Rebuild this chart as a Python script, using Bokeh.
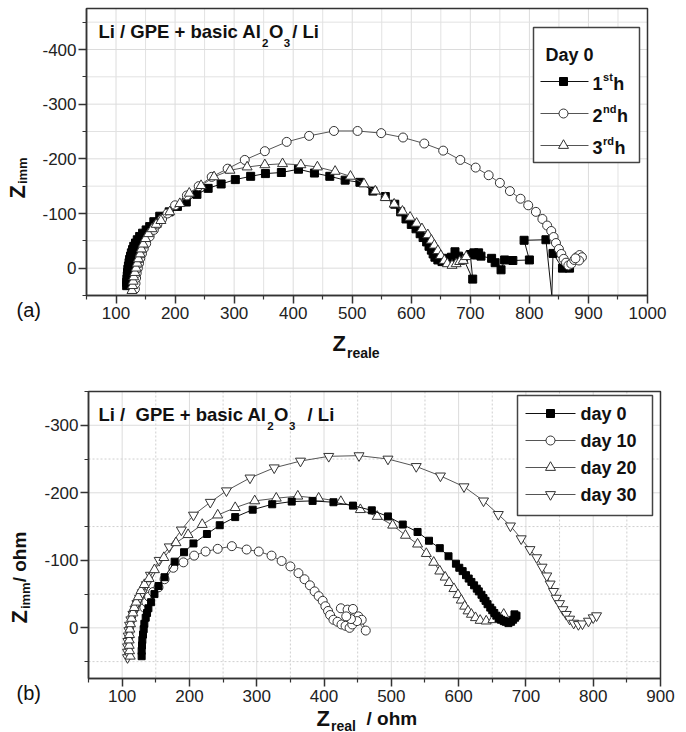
import math
from bokeh.plotting import figure
from bokeh.models import (Range1d, FixedTicker, Label, BoxAnnotation, LinearAxis,
                          PrintfTickFormatter)
from bokeh.layouts import column
from bokeh.embed import file_html
from bokeh.resources import INLINE

FONT = "Liberation Sans"

# ---------------- panel (a) data : Day 0, 1st/2nd/3rd hour ----------------
a_x_1h = [118, 118, 118.5, 119, 119.5, 120, 121, 122, 123, 124.5,
          126, 128, 130, 133, 136, 140, 145, 151, 157, 164,
          174, 190, 204, 219, 237, 256, 278, 302, 328, 353,
          380, 409, 436, 462, 488, 513, 535, 556, 572, 582,
          591, 600, 608, 615, 620, 626, 630, 634, 637, 640,
          645, 652, 658, 663, 668, 674, 680, 688, 704, 700,
          706, 710, 714, 718, 736, 742, 752, 758, 772, 800,
          791, 828, 838, 840, 856, 868]
a_y_1h = [32, 26, 20, 14, 8, 2, -4, -10, -16, -22,
          -28, -34, -40, -46, -52, -58, -64, -70, -76, -85,
          -95, -103, -113, -121, -135, -146, -154, -162, -168, -173,
          -175, -181, -174, -168, -161, -157, -141, -131, -117, -103,
          -90, -80, -72, -63, -56, -48, -40, -33, -26, -20,
          -15, -12, -18, -14, -20, -30, -22, -18, 20, -25,
          -28, -24, -28, -22, -18, -10, 3, -15, -14, -15,
          -51, -52, 51, -27, 0, 0]

a_x_2h = [132, 133, 134, 135, 137, 139, 141, 144, 147, 151,
          157, 164, 170, 178, 187, 200, 220, 240, 262, 289,
          318, 352, 389, 427, 469, 509, 549, 586, 622, 654,
          683, 709, 731, 750, 767, 785, 798, 811, 822, 830,
          837, 841, 845, 850, 854, 858, 862, 866, 871, 876,
          880, 885, 889, 884, 878]
a_y_2h = [38, 28, 18, 9, 0, -9, -18, -27, -36, -45,
          -58, -70, -80, -90, -100, -115, -133, -150, -167, -182,
          -198, -214, -231, -242, -251, -251, -247, -239, -228, -215,
          -198, -184, -170, -156, -141, -127, -115, -103, -90, -78,
          -68, -57, -46, -35, -26, -17, -10, -5, -8, -15,
          -20, -24, -20, -14, -18]

a_x_3h = [127, 128, 129, 130, 132, 134, 136, 138, 141, 143,
          146, 150, 155, 161, 168, 176, 191, 208, 224, 244,
          266, 293, 322, 352, 382, 413, 441, 471, 497, 520,
          539, 556, 571, 585, 598, 609, 618, 628, 634, 639,
          645, 650, 656, 661, 669, 676, 682, 688, 693]
a_y_3h = [41, 32, 24, 16, 8, 0, -9, -17, -26, -35,
          -44, -54, -63, -72, -80, -87, -103, -118, -137, -151,
          -167, -179, -185, -189, -191, -189, -185, -177, -168, -154,
          -141, -129, -117, -104, -93, -82, -72, -61, -51, -42,
          -32, -23, -14, -8, -5, -8, -12, -14, -21]

a_x_major = [100, 200, 300, 400, 500, 600, 700, 800, 900, 1000]
a_x_minor = [50, 150, 250, 350, 450, 550, 650, 750, 850, 950]
a_y_major = [-400, -300, -200, -100, 0]
a_y_minor = [-450, -350, -250, -150, -50, 50]
a_xlim = (50, 1000)
a_ylim = (50, -475)          # (bottom value, top value): the axis is reversed

# ---------------- panel (b) data : day 0 / 10 / 20 / 30 ----------------
b_x_d0 = [129, 129, 129.5, 130, 131, 132, 133, 135, 137, 139,
          143, 148, 154, 163, 178, 192, 206, 226, 245, 268,
          294, 323, 352, 383, 414, 443, 471, 495, 517, 539,
          556, 572, 585, 596, 601, 606, 611, 615, 619, 623,
          627, 630, 634, 637, 640, 643, 647, 650, 653, 656,
          660, 663, 667, 670, 674, 678, 681, 684, 686, 683]
b_y_d0 = [42, 34, 26, 18, 10, 2, -6, -15, -22, -29,
          -38, -50, -62, -75, -98, -112, -125, -139, -152, -164,
          -175, -183, -187, -188, -186, -181, -174, -165, -153, -142,
          -129, -118, -106, -95, -89, -84, -78, -73, -68, -63,
          -58, -54, -49, -44, -40, -35, -30, -26, -22, -18,
          -14, -12, -10, -9, -7, -9, -12, -15, -18, -20]

b_x_d10 = [133, 136, 140, 146, 154, 163, 176, 191, 207, 224,
           242, 263, 285, 303, 322, 337, 350, 362, 371, 379,
           386, 392, 398, 402, 406, 409, 414, 420, 426, 432,
           438, 442, 446, 425, 435, 443, 451, 456, 462, 449, 440, 433]
b_y_d10 = [-30, -38, -46, -53, -60, -72, -89, -97, -107, -113,
           -117, -121, -116, -113, -107, -99, -91, -81, -72, -63,
           -54, -47, -40, -32, -25, -19, -12, -9, -5, -3,
           0, -5, -12, -29, -27, -28, -17, -12, 4, -10, -13, -17]

b_x_d20 = [112, 111, 110.5, 110.5, 111, 111.5, 112.5, 114, 116, 118,
           121, 124, 128, 133, 140, 148, 162, 180, 198, 219,
           242, 268, 297, 329, 361, 392, 425, 454, 479, 502,
           521, 539, 552, 563, 572, 580, 586, 593, 599, 604,
           609, 614, 619, 625, 632, 641, 651, 661, 667]
b_y_d20 = [42, 34, 26, 18, 10, 2, -6, -14, -22, -30,
           -38, -46, -55, -64, -73, -86, -104, -126, -138, -153,
           -167, -178, -188, -192, -195, -192, -187, -175, -165, -152,
           -137, -124, -110, -97, -84, -75, -67, -58, -49, -41,
           -32, -25, -20, -15, -11, -10, -12, -14, -20]

b_x_d30 = [108, 108, 108, 108.5, 109, 110, 111, 113, 116, 119,
           122, 126, 130, 136, 142, 155, 170, 188, 206, 231,
           255, 290, 326, 365, 407, 452, 495, 537, 573, 608,
           637, 659, 677, 693, 706, 716, 724, 731, 736, 741,
           745, 750, 755, 760, 765, 771, 778, 784, 793, 800, 805]
b_y_d30 = [44, 36, 28, 20, 12, 4, -4, -12, -20, -28,
           -36, -44, -52, -64, -78, -100, -120, -145, -167, -186,
           -203, -222, -237, -247, -254, -255, -250, -239, -225, -209,
           -188, -168, -151, -132, -116, -104, -90, -77, -65, -54,
           -44, -36, -27, -20, -13, -7, -5, -6, -10, -15, -18]

b_x_major = [100, 200, 300, 400, 500, 600, 700, 800, 900]
b_x_minor = [50, 150, 250, 350, 450, 550, 650, 750, 850]
b_y_major = [-300, -200, -100, 0]
b_y_minor = [-350, -250, -150, -50, 50]
b_xlim = (50, 900)
b_ylim = (75, -350)

legend_a_title = "Day 0"
legend_a_labels = [("1", "st", "h"), ("2", "nd", "h"), ("3", "rd", "h")]
legend_b_labels = ["day 0", "day 10", "day 20", "day 30"]

# ---------------- text metrics (Arial / Liberation Sans bold) ----------------
BW = {' ': 278, '/': 278, '+': 584, '(': 333, ')': 333, '-': 333,
      'A': 722, 'D': 722, 'E': 667, 'G': 778, 'L': 611, 'O': 778, 'P': 667, 'Z': 611,
      'a': 556, 'b': 611, 'c': 556, 'd': 611, 'e': 556, 'h': 611, 'i': 278, 'l': 278,
      'm': 889, 'n': 611, 'o': 611, 'r': 389, 's': 556, 't': 333, 'y': 556}


def tw(s, size):
    return sum(BW.get(c, 556) for c in s) / 1000.0 * size


class Frame:
    """Plot box of one panel, in page pixels; the figure canvas covers the whole panel."""

    def __init__(self, xlim, ylim, left, right, top, bottom, page_top, width, height):
        self.xlim, self.ylim = xlim, ylim
        self.left, self.right, self.top, self.bottom = left, right, top, bottom
        self.page_top, self.width, self.height = page_top, width, height
        self.p = None

    def X(self, px):
        return self.xlim[0] + (px - self.left) / (self.right - self.left) * (self.xlim[1] - self.xlim[0])

    def Y(self, py):
        return self.ylim[0] + (self.bottom - py) / (self.bottom - self.top) * (self.ylim[1] - self.ylim[0])

    def make_figure(self):
        p = figure(width=self.width, height=self.height,
                   x_range=Range1d(self.X(0), self.X(self.width)),
                   y_range=Range1d(self.Y(self.page_top + self.height), self.Y(self.page_top)),
                   x_axis_type=None, y_axis_type=None,
                   output_backend="svg", toolbar_location=None,
                   min_border=0, min_border_left=0, min_border_right=0,
                   min_border_top=0, min_border_bottom=0)
        p.outline_line_color = None
        p.background_fill_color = "white"
        p.border_fill_color = "white"
        self.p = p
        return p

    def text(self, s, px, py, size, bold=True, align="left", angle=0.0, color="#111111"):
        """px, py: page position of the text's left end and vertical centre."""
        self.p.add_layout(Label(x=self.X(px), y=self.Y(py), text=s, text_font=FONT,
                                text_font_size=f"{size}px",
                                text_font_style="bold" if bold else "normal",
                                text_align=align, text_baseline="middle", angle=angle,
                                text_color=color))


def dress(F, xmaj, xmin, ymaj, ymin, dotted_minor):
    p = F.p
    xlo, xhi = F.xlim
    ylo, yhi = min(F.ylim), max(F.ylim)
    # grid, limited to the plot box
    major_col, minor_col = "#dcdcdc", ("#cfcfcf" if dotted_minor else "#e2e2e2")
    minor_dash = "2 2" if dotted_minor else "solid"
    for ticks, col, dash in ((xmaj, major_col, "solid"), (xmin, minor_col, minor_dash)):
        xs = [t for t in ticks if xlo < t < xhi]
        p.segment(x0=xs, y0=[ylo] * len(xs), x1=xs, y1=[yhi] * len(xs),
                  line_color=col, line_width=1, line_dash=dash, level="underlay")
    for ticks, col, dash in ((ymaj, major_col, "solid"), (ymin, minor_col, minor_dash)):
        ys = [t for t in ticks if ylo < t < yhi]
        p.segment(x0=[xlo] * len(ys), y0=ys, x1=[xhi] * len(ys), y1=ys,
                  line_color=col, line_width=1, line_dash=dash, level="underlay")
    # axes, pinned to the plot box edges
    xax = LinearAxis(fixed_location=F.ylim[0], bounds=F.xlim,
                     ticker=FixedTicker(ticks=xmaj, minor_ticks=xmin),
                     formatter=PrintfTickFormatter(format="%d"))
    yax = LinearAxis(fixed_location=F.xlim[0], bounds=(ylo, yhi),
                     ticker=FixedTicker(ticks=ymaj, minor_ticks=ymin),
                     formatter=PrintfTickFormatter(format="%d"))
    for ax in (xax, yax):
        ax.axis_line_color = "#333333"
        ax.axis_line_width = 1.5
        ax.major_tick_line_color = "#333333"
        ax.major_tick_line_width = 1.5
        ax.minor_tick_line_color = "#333333"
        ax.minor_tick_line_width = 1.2
        ax.major_tick_out = 8
        ax.major_tick_in = 0
        ax.minor_tick_out = 4
        ax.minor_tick_in = 0
        ax.major_label_text_font = FONT
        ax.major_label_text_font_size = "17px"
        ax.major_label_text_color = "#222222"
    xax.major_label_standoff = 3
    yax.major_label_standoff = 2
    p.add_layout(xax, "below")
    p.add_layout(yax, "left")
    # top / right edges of the plot box
    p.add_layout(BoxAnnotation(left=xlo, right=xhi, bottom=ylo, top=yhi, fill_color=None,
                               fill_alpha=0, line_color="#333333", line_width=1.5, line_alpha=1.0))


def series(F, xs, ys, marker, size, fill, line_col, edge_col):
    lo, hi = min(F.ylim), max(F.ylim)
    sizes = [size if lo <= y <= hi else 0 for y in ys]   # points outside the box are not shown
    F.p.line(xs, ys, line_color=line_col, line_width=1)
    F.p.scatter(xs, ys, marker=marker, size=sizes, fill_color=fill, line_color=edge_col,
                line_width=1)


def formula_title(F, lead, tail, x, yc, size=18.5, sub=11.5):
    """'<lead>Al2O3<tail>' with real lowered subscripts."""
    F.text(lead, x, yc, size)
    x += tw(lead.replace("\u00a0", " "), size) + 0.5
    F.text("2", x, yc + 11, sub)
    x += tw("2", sub) + 0.5
    F.text("O", x, yc, size)
    x += tw("O", size) + 0.5
    F.text("3", x, yc + 11, sub)
    x += tw("3", sub) + 2
    F.text(tail, x, yc, size)


W = 686
# ================= panel (a) =================
FA = Frame(a_xlim, a_ylim, 86, 647, 8, 295, page_top=0, width=W, height=366)
pa = FA.make_figure()
dress(FA, a_x_major, a_x_minor, a_y_major, a_y_minor, dotted_minor=False)

series(FA, a_x_1h, a_y_1h, "square", 8, "#000000", "#111111", "#000000")
series(FA, a_x_2h, a_y_2h, "circle", 9, "white", "#555555", "#333333")
series(FA, a_x_3h, a_y_3h, "triangle", 10, "white", "#555555", "#333333")

formula_title(FA, "Li / GPE + basic Al", " / Li", 98, 31)

# legend (a)
pa.add_layout(BoxAnnotation(left=FA.X(533), right=FA.X(639), top=FA.Y(27), bottom=FA.Y(162),
                            fill_color="white", fill_alpha=1.0, line_color="#444444",
                            line_width=1.5, line_alpha=1.0))
FA.text(legend_a_title, 545, 54, 18)
leg_a_style = [dict(marker="square", size=8, fill_color="#000000", line_color="#000000"),
               dict(marker="circle", size=9, fill_color="white", line_color="#333333"),
               dict(marker="triangle", size=10, fill_color="white", line_color="#333333")]
leg_a_line = ["#111111", "#555555", "#555555"]
for i, (yy, (n, sup, h)) in enumerate(zip([81, 113, 145], legend_a_labels)):
    pa.line([FA.X(540), FA.X(588)], [FA.Y(yy), FA.Y(yy)], line_color=leg_a_line[i], line_width=1,
            level="overlay")
    pa.scatter([FA.X(563)], [FA.Y(yy)], level="overlay", **leg_a_style[i])
    tx = 592
    FA.text(n, tx, yy + 2, 18)
    tx += tw(n, 18) + 0.5
    FA.text(sup, tx, yy - 5, 11)
    tx += tw(sup, 11) + 0.5
    FA.text(h, tx, yy + 2, 18)

# axis labels (a)
FA.text("(a)", 16, 309, 20, bold=False)
FA.text("Z", 332, 343, 22)
FA.text("reale", 332 + tw("Z", 22) + 1, 352, 14)
FA.text("Z", 16.5, 198, 22, angle=math.pi / 2)
FA.text("imm", 22, 198 - tw("Z", 22) - 1, 13, angle=math.pi / 2)

# ================= panel (b) =================
FB = Frame(b_xlim, b_ylim, 88, 660, 391, 678, page_top=366, width=W, height=366)
pb = FB.make_figure()
dress(FB, b_x_major, b_x_minor, b_y_major, b_y_minor, dotted_minor=True)

series(FB, b_x_d30, b_y_d30, "inverted_triangle", 10, "white", "#555555", "#333333")
series(FB, b_x_d20, b_y_d20, "triangle", 10, "white", "#555555", "#333333")
series(FB, b_x_d10, b_y_d10, "circle", 9, "white", "#555555", "#333333")
series(FB, b_x_d0, b_y_d0, "square", 7, "#000000", "#111111", "#000000")

formula_title(FB, "Li /\u00a0 GPE + basic Al", "\u00a0 / Li", 98, 414)

# legend (b)
pb.add_layout(BoxAnnotation(left=FB.X(517), right=FB.X(652), top=FB.Y(395), bottom=FB.Y(515),
                            fill_color="white", fill_alpha=1.0, line_color="#444444",
                            line_width=1.5, line_alpha=1.0))
leg_b_style = [dict(marker="square", size=8, fill_color="#000000", line_color="#000000"),
               dict(marker="circle", size=9, fill_color="white", line_color="#333333"),
               dict(marker="triangle", size=10, fill_color="white", line_color="#333333"),
               dict(marker="inverted_triangle", size=10, fill_color="white", line_color="#333333")]
leg_b_line = ["#111111", "#555555", "#555555", "#555555"]
for i, (yy, lab) in enumerate(zip([413, 440, 467, 494], legend_b_labels)):
    pb.line([FB.X(525), FB.X(575)], [FB.Y(yy), FB.Y(yy)], line_color=leg_b_line[i], line_width=1,
            level="overlay")
    pb.scatter([FB.X(550)], [FB.Y(yy)], level="overlay", **leg_b_style[i])
    FB.text(lab, 580, yy, 18)

# axis labels (b)
FB.text("(b)", 16, 692, 20, bold=False)
FB.text("Z", 316, 718, 22)
FB.text("real", 316 + tw("Z", 22) + 1, 725, 14)
FB.text(" / ohm", 366, 718, 19)
zy = 623
FB.text("Z", 19, zy, 22, angle=math.pi / 2)
zy -= tw("Z", 22) + 1
FB.text("imm", 24.5, zy, 13, angle=math.pi / 2)
zy -= tw("imm", 13)
FB.text(" / ohm", 19, zy, 19, angle=math.pi / 2)

layout = column(pa, pb)
open("out.html", "w").write(file_html(layout, INLINE))
